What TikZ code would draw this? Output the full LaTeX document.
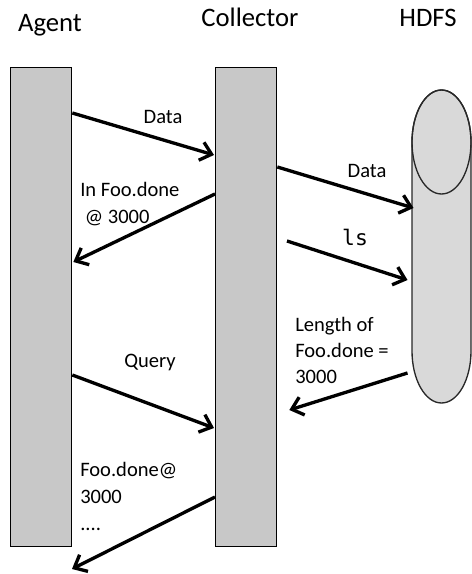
\documentclass[tikz,border=0pt]{standalone}
\usepackage{fontspec}
\setmainfont{Carlito}
\newfontfamily\codefont{DejaVu Sans Mono}
\usetikzlibrary{calc}
\usetikzlibrary{arrows.meta}

\definecolor{barGray}{RGB}{200,200,200}
\definecolor{canGray}{RGB}{217,217,217}
\definecolor{canEdge}{RGB}{40,40,40}

\begin{document}
\begin{tikzpicture}[x=0.75pt, y=-0.75pt, barnode/.style={draw=black, line width=1pt, fill=barGray, minimum width=45.75pt, minimum height=359.25pt, inner sep=0pt, anchor=north west}, headnode/.style={font=\fontsize{20}{24}\selectfont, inner sep=0pt, anchor=base}, txtnode/.style={font=\fontsize{15.4}{20.2}\selectfont, inner sep=0pt}, msg/.style={line width=2.5pt, black, -{Straight Barb[length=8pt, width=14pt]}}]
			\useasboundingbox (0,0) rectangle (471,574);

			% the three columns
			\node[headnode] (agenthead) at (50,32) {Agent};
			\node[headnode] (collhead) at (250,27) {Collector};
			\node[headnode] (hdfshead) at (428,27) {HDFS};

			\node[barnode] (agent) at (10,67) {};
			\node[barnode] (collector) at (215,67) {};

			\coordinate (hdfs) at (441.5,142);
			\filldraw[draw=canEdge, fill=canGray, line width=1pt] ($(hdfs)+(-29.5,0)$) -- ($(hdfs)+(-29.5,209)$) arc[start angle=180, end angle=0, x radius=29.5, y radius=52] -- ($(hdfs)+(29.5,0)$) arc[start angle=0, end angle=-180, x radius=29.5, y radius=52] -- cycle;
			\draw[draw=canEdge, line width=1pt] (hdfs) ellipse[x radius=29.5, y radius=52];

			% end points of the messages
			\coordinate (a1) at ($(agent.north east)+(0,46)$);
			\coordinate (c1) at ($(collector.north west)+(-1,88)$);
			\coordinate (c2) at ($(collector.north west)+(0,127)$);
			\coordinate (a2) at ($(agent.north east)+(1,195)$);
			\coordinate (c3) at ($(collector.north east)+(0,100)$);
			\coordinate (h3) at ($(hdfs)+(-28,66)$);
			\coordinate (l4) at (287,241);
			\coordinate (h4) at ($(hdfs)+(-34,138)$);
			\coordinate (h5) at ($(hdfs)+(-34,231)$);
			\coordinate (c5) at ($(collector.north east)+(12,343)$);
			\coordinate (a6) at ($(agent.north east)+(0,308)$);
			\coordinate (c6) at ($(collector.north west)+(-1,361)$);
			\coordinate (c7) at ($(collector.north west)+(0,430)$);
			\coordinate (out7) at (72,569);

			% base of a multi-line label is its last line
			\node[txtnode, anchor=base] (data1) at (163,123) {Data};
			\node[txtnode, anchor=base west, align=left] (infoo) at (80,223) {In Foo.done\\\ @ 3000};
			\node[txtnode, anchor=base] (data2) at (367,177) {Data};
			\node[txtnode, anchor=base, font=\fontsize{16}{20}\codefont] (ls) at (355,245) {ls};
			\node[txtnode, anchor=base west, align=left, font=\fontsize{15.4}{19.5}\selectfont] (length) at (295,383) {Length of\\Foo.done =\\3000};
			\node[txtnode, anchor=base] (query) at (150,367) {Query};
			\node[txtnode, anchor=base west, align=left] (foodone) at (80,530) {Foo.done@\\3000\\....};

			\draw[msg] (a1) -- (c1);
			\draw[msg] (c2) -- (a2);
			\draw[msg] (c3) -- (h3);
			\draw[msg] (l4) -- (h4);
			\draw[msg] (h5) -- (c5);
			\draw[msg] (a6) -- (c6);
			\draw[msg] (c7) -- (out7);

		\end{tikzpicture}
\end{document}
